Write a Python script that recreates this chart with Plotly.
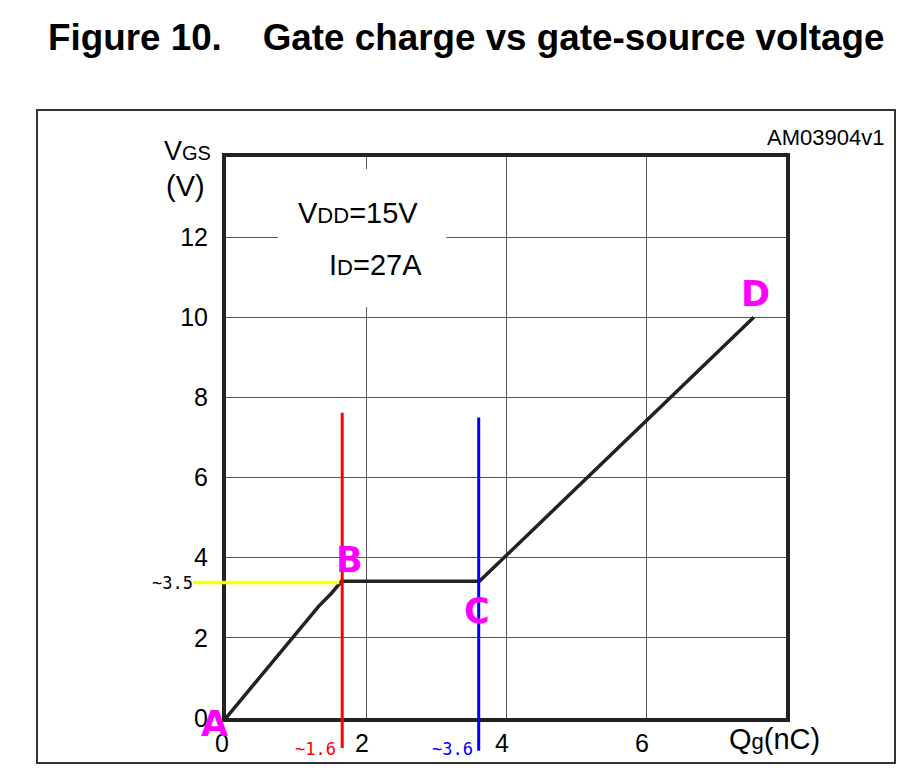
import plotly.graph_objects as go

# ---- data ----
q_nc = [0.0, 0.96, 1.32, 1.51, 1.65, 3.62, 7.54]
vgs_v = [0.0, 2.0, 2.78, 3.12, 3.41, 3.41, 10.0]

x_ticks = [0, 2, 4, 6]
y_ticks = [0, 2, 4, 6, 8, 10, 12]

q_b_marker = 1.66      # red line (~1.6)
q_c_marker = 3.61      # blue line (~3.6)
v_plateau = 3.38       # yellow line (~3.5)

point_labels = ["A", "B", "C", "D"]
point_q = [-0.17, 1.76, 3.58, 7.57]
point_v = [-0.14, 3.95, 2.66, 10.58]

X_RANGE = [0, 8]
Y_RANGE = [0, 14]

W, H = 902, 776
ML, MR, MT, MB = 226, 116, 157, 58
PW, PH = W - ML - MR, H - MT - MB


def px(xp):
    return (xp - ML) / PW


def py(yp):
    return (H - MB - yp) / PH


def qx(q):
    return (q - X_RANGE[0]) / (X_RANGE[1] - X_RANGE[0])


def vy(v):
    return (v - Y_RANGE[0]) / (Y_RANGE[1] - Y_RANGE[0])


FONT = "Liberation Sans"
MONO = "DejaVu Sans Mono"
LETTER_FONT = "DejaVu Sans"

fig = go.Figure()
fig.add_trace(go.Scatter(
    x=q_nc, y=vgs_v, mode="lines",
    line=dict(color="#222222", width=3.5),
    hoverinfo="skip", showlegend=False,
))

shapes = [
    # white box behind the condition text (hides grid)
    dict(type="rect", xref="x", yref="y", x0=0.74, x1=3.15, y0=10.25, y1=13.7,
         fillcolor="white", line=dict(width=0), layer="between"),
    # outer frame
    dict(type="rect", xref="paper", yref="paper", x0=px(37), x1=px(895),
         y0=py(763), y1=py(110), line=dict(color="#333333", width=2), layer="below"),
    # yellow line
    dict(type="line", xref="paper", yref="y", x0=qx(-0.47), x1=qx(1.62),
         y0=v_plateau, y1=v_plateau, line=dict(color="#ffff00", width=3.5), layer="above"),
    # red line
    dict(type="line", xref="x", yref="paper", x0=q_b_marker, x1=q_b_marker,
         y0=vy(-0.75), y1=vy(7.62), line=dict(color="#ff0000", width=3), layer="above"),
    # blue line
    dict(type="line", xref="x", yref="paper", x0=q_c_marker, x1=q_c_marker,
         y0=vy(-0.82), y1=vy(7.5), line=dict(color="#0000ff", width=3), layer="above"),
]

annotations = [
    dict(text="Figure 10.\u00a0\u00a0\u00a0\u00a0Gate charge vs gate-source voltage",
         xref="paper", yref="paper", x=px(465.5), y=py(37), showarrow=False,
         font=dict(family=FONT, size=36.8, color="black", weight="bold"),
         xanchor="center", yanchor="middle"),
    dict(text="AM03904v1", xref="paper", yref="paper", x=px(886), y=py(138),
         showarrow=False, font=dict(family=FONT, size=22, color="black"),
         xanchor="right", yanchor="middle"),
    dict(text="V<span style='font-size:20px'>GS</span>", xref="paper", yref="paper",
         x=px(187.5), y=py(151), showarrow=False,
         font=dict(family=FONT, size=27, color="black"), xanchor="center", yanchor="middle"),
    dict(text="(V)", xref="paper", yref="paper", x=px(185), y=py(186), showarrow=False,
         font=dict(family=FONT, size=29, color="black"), xanchor="center", yanchor="middle"),
    dict(text="Q<span style='font-size:22px'>g</span>(nC)", xref="paper", yref="paper",
         x=px(774), y=py(739), showarrow=False,
         font=dict(family=FONT, size=29, color="black"), xanchor="center", yanchor="middle"),
    dict(text="V<span style='font-size:22px'>DD</span>=15V", xref="paper", yref="paper",
         x=px(296), y=py(213), showarrow=False,
         font=dict(family=FONT, size=29, color="black"), xanchor="left", yanchor="middle"),
    dict(text="I<span style='font-size:22px'>D</span>=27A", xref="paper", yref="paper",
         x=px(327), y=py(265), showarrow=False,
         font=dict(family=FONT, size=29, color="black"), xanchor="left", yanchor="middle"),
    dict(text="~3.5", xref="paper", yref="y", x=qx(-0.44), y=v_plateau, showarrow=False,
         font=dict(family=MONO, size=17, color="black"), xanchor="right", yanchor="middle"),
    dict(text="~1.6", xref="x", yref="paper", x=q_b_marker, y=vy(-0.78), showarrow=False,
         font=dict(family=MONO, size=17, color="#ff0000"), xanchor="right", yanchor="middle",
         xshift=-4),
    dict(text="~3.6", xref="x", yref="paper", x=q_c_marker, y=vy(-0.78), showarrow=False,
         font=dict(family=MONO, size=17, color="#0000ff"), xanchor="right", yanchor="middle",
         xshift=-4),
]

for lab, q, v in zip(point_labels, point_q, point_v):
    annotations.append(dict(text=lab, xref="paper", yref="paper", x=qx(q), y=vy(v),
                            showarrow=False,
                            font=dict(family=LETTER_FONT, size=35, color="#ff00ff",
                                      weight="bold"),
                            xanchor="center", yanchor="middle"))

fig.update_layout(
    width=W, height=H,
    margin=dict(l=ML, r=MR, t=MT, b=MB, pad=0),
    paper_bgcolor="white", plot_bgcolor="white",
    shapes=shapes, annotations=annotations,
    showlegend=False,
    font=dict(family=FONT, size=25, color="black"),
)
fig.update_xaxes(
    range=X_RANGE, tickvals=x_ticks, ticktext=[str(t) for t in x_ticks],
    showgrid=True, gridcolor="#555555", gridwidth=1,
    showline=True, linecolor="#222222", linewidth=4, mirror=True,
    ticks="", ticklabelstandoff=0, ticklabelshift=-4, zeroline=False,
    tickfont=dict(family=FONT, size=25, color="black"),
)
fig.update_yaxes(
    range=Y_RANGE, tickvals=y_ticks, ticktext=[str(t) for t in y_ticks],
    showgrid=True, gridcolor="#555555", gridwidth=1,
    showline=True, linecolor="#222222", linewidth=4, mirror=True,
    ticks="", ticklabelstandoff=9, zeroline=False,
    tickfont=dict(family=FONT, size=25, color="black"),
)

fig.write_html("out.html", config={"displayModeBar": False},
               post_script="document.body.style.margin='0';document.body.style.padding='0';")
